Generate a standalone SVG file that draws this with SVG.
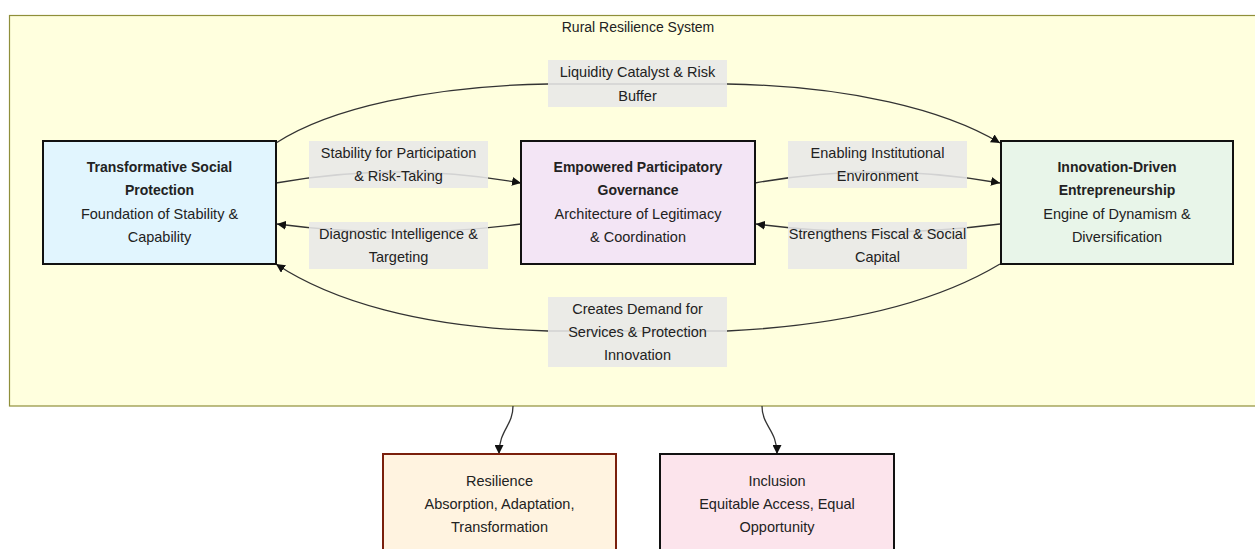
<svg xmlns="http://www.w3.org/2000/svg" width="1255" height="549" viewBox="0 0 1255 549">
<style>
text{font-family:"Liberation Sans",Arial,sans-serif;font-size:14.5px;fill:#222;text-anchor:middle;dominant-baseline:central}
.b{font-weight:bold;font-size:14px}
.t{font-size:14px}
.node rect{stroke:#111;stroke-width:2}
.edge{fill:none;stroke:#333;stroke-width:1.3}
.lbl{fill:#e8e8e8;fill-opacity:0.88}
</style>
<defs>
<marker id="arr" viewBox="0 0 10 10" refX="10" refY="5" markerWidth="9" markerHeight="9" markerUnits="userSpaceOnUse" orient="auto">
<path d="M0,0 L10,5 L0,10 z" fill="#111"/>
</marker>
</defs>
<g id="cluster">
<rect x="9.5" y="15.5" width="1260" height="390.5" fill="#ffffde" stroke="#8f8f3a" stroke-width="1.2"/>
<text class="t" x="638" y="27">Rural Resilience System</text>
</g>
<g id="connectors">
<path class="edge" d="M276,143 C330,108 430,86 548,84 L727,84 C850,86 945,110 1000,143" marker-end="url(#arr)"/>
<path class="edge" d="M276,183 Q398,161 521,183" marker-end="url(#arr)"/>
<path class="edge" d="M521,224 Q398,240 277,224" marker-end="url(#arr)"/>
<path class="edge" d="M755,183 Q877,161 1000,183" marker-end="url(#arr)"/>
<path class="edge" d="M1000,224 Q877,240 756,224" marker-end="url(#arr)"/>
<path class="edge" d="M1000,264 C940,300 850,325 727,331 L548,331 C420,328 330,300 276,264" marker-end="url(#arr)"/>
<path class="edge" d="M513,406 C513,426 499,430 499,454" marker-end="url(#arr)"/>
<path class="edge" d="M762,406 C762,426 777,430 777,454" marker-end="url(#arr)"/>
</g>
<g id="labels">
<g id="lbl-liquidity"><rect class="lbl" x="548" y="60" width="179" height="47"/><text x="637.5" y="72">Liquidity Catalyst &amp; Risk</text><text x="637.5" y="96">Buffer</text></g>
<g id="lbl-stability"><rect class="lbl" x="309" y="141" width="179" height="47"/><text x="398.5" y="153">Stability for Participation</text><text x="398.5" y="176">&amp; Risk-Taking</text></g>
<g id="lbl-diagnostic"><rect class="lbl" x="309" y="222" width="179" height="47"/><text x="398.5" y="234">Diagnostic Intelligence &amp;</text><text x="398.5" y="257">Targeting</text></g>
<g id="lbl-enabling"><rect class="lbl" x="788" y="141" width="179" height="47"/><text x="877.5" y="153">Enabling Institutional</text><text x="877.5" y="176">Environment</text></g>
<g id="lbl-strengthens"><rect class="lbl" x="788" y="222" width="179" height="47"/><text x="877.5" y="234">Strengthens Fiscal &amp; Social</text><text x="877.5" y="257">Capital</text></g>
<g id="lbl-creates"><rect class="lbl" x="548" y="297" width="179" height="70"/><text x="637.5" y="309">Creates Demand for</text><text x="637.5" y="332">Services &amp; Protection</text><text x="637.5" y="355">Innovation</text></g>
</g>
<g id="node-social" class="node">
<rect x="43" y="141" width="233" height="123" fill="#e1f5fe"/>
<text class="b" x="159.5" y="167">Transformative Social</text>
<text class="b" x="159.5" y="190">Protection</text>
<text x="159.5" y="214">Foundation of Stability &amp;</text>
<text x="159.5" y="237">Capability</text>
</g>
<g id="node-governance" class="node">
<rect x="521" y="141" width="234" height="123" fill="#f3e5f5"/>
<text class="b" x="638" y="167">Empowered Participatory</text>
<text class="b" x="638" y="190">Governance</text>
<text x="638" y="214">Architecture of Legitimacy</text>
<text x="638" y="237">&amp; Coordination</text>
</g>
<g id="node-innovation" class="node">
<rect x="1001" y="141" width="232" height="123" fill="#e8f5e9"/>
<text class="b" x="1117" y="167">Innovation-Driven</text>
<text class="b" x="1117" y="190">Entrepreneurship</text>
<text x="1117" y="214">Engine of Dynamism &amp;</text>
<text x="1117" y="237">Diversification</text>
</g>
<g id="node-resilience" class="node">
<rect x="383" y="454" width="233" height="110" fill="#fff3e0" style="stroke:#7a1f0c"/>
<text x="499.5" y="481">Resilience</text>
<text x="499.5" y="504">Absorption, Adaptation,</text>
<text x="499.5" y="527">Transformation</text>
</g>
<g id="node-inclusion" class="node">
<rect x="660" y="454" width="234" height="110" fill="#fce4ec"/>
<text x="777" y="481">Inclusion</text>
<text x="777" y="504">Equitable Access, Equal</text>
<text x="777" y="527">Opportunity</text>
</g>
</svg>
